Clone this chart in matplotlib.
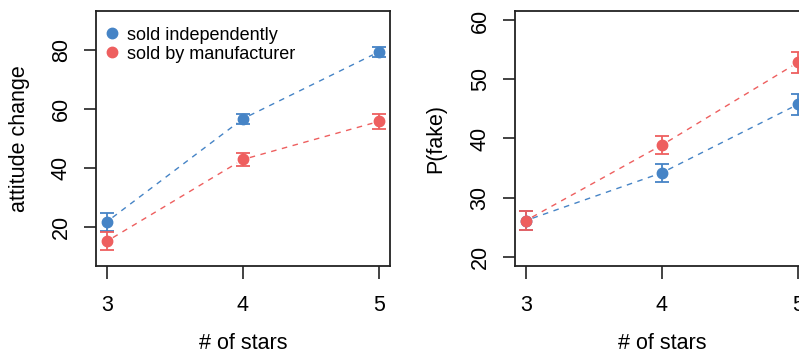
import matplotlib
matplotlib.use("Agg")
import matplotlib.pyplot as plt
import numpy as np

plt.rcParams['font.family'] = ['Liberation Sans', 'DejaVu Sans']

stars = [3, 4, 5]
series_names = ["sold independently", "sold by manufacturer"]
colors = ["#4684C6", "#EE5F5F"]

# Panel 1: attitude change
att_mean = {"sold independently": [21.8, 56.7, 79.4],
            "sold by manufacturer": [15.2, 42.9, 55.8]}
att_err = {"sold independently": [3.0, 1.7, 1.7],
           "sold by manufacturer": [3.0, 2.1, 2.5]}

# Panel 2: P(fake)
fake_mean = {"sold independently": [26.1, 34.2, 45.8],
             "sold by manufacturer": [26.1, 38.9, 52.9]}
fake_err = {"sold independently": [1.6, 1.5, 1.8],
            "sold by manufacturer": [1.6, 1.5, 1.8]}

W, H = 799, 353
fig = plt.figure(figsize=(W / 100, H / 100), dpi=100)

def px_axes(x0, x1, y0, y1):
    return fig.add_axes([x0 / W, (H - y1) / H, (x1 - x0) / W, (y1 - y0) / H])

ax1 = px_axes(96, 390, 11, 266)
ax2 = px_axes(515, 809, 11, 266)

GAP = 7  # pixel gap between line and point (R type="b")
FS = 15.5

def gapped_line(ax, xs, ys, color):
    tr = ax.transData
    pts = tr.transform(np.column_stack([xs, ys]))
    for i in range(len(pts) - 1):
        p, q = pts[i], pts[i + 1]
        d = q - p
        L = np.hypot(*d)
        u = d / L
        a = p + u * GAP
        b = q - u * GAP
        seg = tr.inverted().transform(np.array([a, b]))
        ax.plot(seg[:, 0], seg[:, 1], linestyle=(0, (4, 4)), color=color,
                lw=1.0, zorder=2)

def panel(ax, means, errs, ylim, yticks, ylabel, ylabel_x, legend):
    ax.set_xlim(2.92, 5.08)
    ax.set_ylim(*ylim)
    for name, c in zip(series_names, colors):
        ax.errorbar(stars, means[name], yerr=errs[name], fmt='o', color=c,
                    ms=7.5, capsize=5, elinewidth=1.3, capthick=1.3,
                    label=name, zorder=3)
    for name, c in zip(series_names, colors):
        gapped_line(ax, stars, means[name], c)
    ax.set_xticks(stars)
    ax.set_xticklabels([str(s) for s in stars])
    ax.set_yticks(yticks)
    ax.set_yticklabels([str(t) for t in yticks], rotation=90, va='center')
    ax.tick_params(axis='both', length=9, width=1.2, labelsize=FS, color='#222222')
    ax.tick_params(axis='x', pad=12)
    ax.tick_params(axis='y', pad=8.5)
    for s in ax.spines.values():
        s.set_linewidth(1.3)
        s.set_color('#222222')
    ax.set_xlabel("# of stars", fontsize=FS, labelpad=12)
    ax.set_ylabel(ylabel, fontsize=FS, va='center')
    ax.yaxis.set_label_coords(ylabel_x, 0.5)
    if legend:
        handles = [plt.Line2D([], [], marker='o', ls='none', color=c, ms=7.5)
                   for c in colors]
        ax.legend(handles, series_names, loc='upper left', frameon=False,
                  fontsize=13, handletextpad=0.25, borderaxespad=0.0,
                  bbox_to_anchor=(-0.007, 0.967),
                  labelspacing=0.12, handlelength=1.2)

fig.canvas.draw()
panel(ax1, att_mean, att_err, (6.8, 93.2), [20, 40, 60, 80], "attitude change",
      (20 - 96) / 294, True)
panel(ax2, fake_mean, fake_err, (18.4, 61.6), [20, 30, 40, 50, 60], "P(fake)",
      (436 - 515) / 294, False)

fig.savefig("out.png", dpi=100)
